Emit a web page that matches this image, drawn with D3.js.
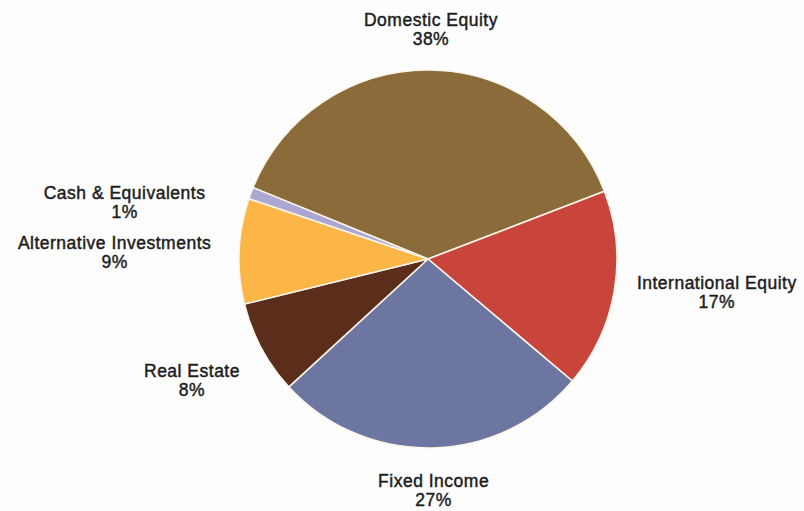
<!DOCTYPE html>
<html>
<head>
<meta charset="utf-8">
<script src="https://cdn.jsdelivr.net/npm/d3@7"></script>
<style>
  html, body { margin: 0; padding: 0; background: #fdfdfd; }
  svg { display: block; }
  text { font-family: "Liberation Sans", Arial, Helvetica, sans-serif; fill: #1c1c1c; stroke: #1c1c1c; stroke-width: 0.45px; }
</style>
</head>
<body>
<svg id="chart" width="804" height="511"></svg>
<script>
// Asset allocation, percent of total, in clockwise order from the top-left
const categories = ["Domestic Equity", "International Equity", "Fixed Income", "Real Estate", "Alternative Investments", "Cash & Equivalents"];
const values = [38, 17, 27, 8, 9, 1];
const colors = ["#8b6b39", "#c9443a", "#6d76a0", "#5b2e1c", "#fbb647", "#aba6d2"];

const W = 804, H = 511;
const cx = 428, cy = 259, radius = 189;
const startDeg = -67.8;
const labelGap = 24;
const fontSize = 17.5;
const lineGap = 19;

// small hand adjustments for crowded labels
const labelNudge = {
  "Domestic Equity": [0, 4],
  "International Equity": [0, -3],
  "Fixed Income": [0, 2],
  "Real Estate": [-6, 14],
  "Alternative Investments": [-4, 5],
  "Cash & Equivalents": [-28, 26]
};

const svg = d3.select("#chart");
const rows = categories.map((c, i) => ({ name: c, value: values[i], color: colors[i] }));

const pie = d3.pie()
  .sort(null)
  .value(d => d.value)
  .startAngle(startDeg * Math.PI / 180)
  .endAngle(startDeg * Math.PI / 180 + 2 * Math.PI);

const arc = d3.arc().innerRadius(0).outerRadius(radius);
const arcs = pie(rows);

const g = svg.append("g").attr("transform", `translate(${cx},${cy})`);

g.selectAll("path.slice")
  .data(arcs)
  .join("path")
  .attr("class", "slice")
  .attr("d", arc)
  .attr("fill", d => d.data.color)
  .attr("stroke", "#fbf4e8")
  .attr("stroke-width", 1.6)
  .attr("stroke-linejoin", "round");

// labels placed just outside each slice, box anchored by its angle
const labels = svg.append("g");
arcs.forEach(a => {
  const mid = (a.startAngle + a.endAngle) / 2;
  const s = Math.sin(mid), c = Math.cos(mid);
  const R = radius + labelGap;
  const px = cx + R * s, py = cy - R * c;

  const t = labels.append("text")
    .attr("font-size", fontSize)
    .attr("letter-spacing", 0.5)
    .attr("text-anchor", "middle");
  t.append("tspan").text(a.data.name);
  t.append("tspan").text(a.data.value + "%");
  t.selectAll("tspan").attr("x", 0).attr("y", (d, i) => i * lineGap);

  const w = t.node().getBBox().width;
  const h = lineGap + fontSize * 1.0;
  const [nx, ny] = labelNudge[a.data.name] || [0, 0];
  let left = px - w * (1 - s) / 2 + nx;
  left = Math.max(2, Math.min(W - 2 - w, left));
  const top = py - h * (1 + c) / 2 + ny;
  const centerX = left + w / 2;
  const base1 = top + fontSize * 0.74;

  t.selectAll("tspan")
    .attr("x", centerX)
    .attr("y", (d, i) => base1 + i * lineGap);
});
</script>
</body>
</html>
